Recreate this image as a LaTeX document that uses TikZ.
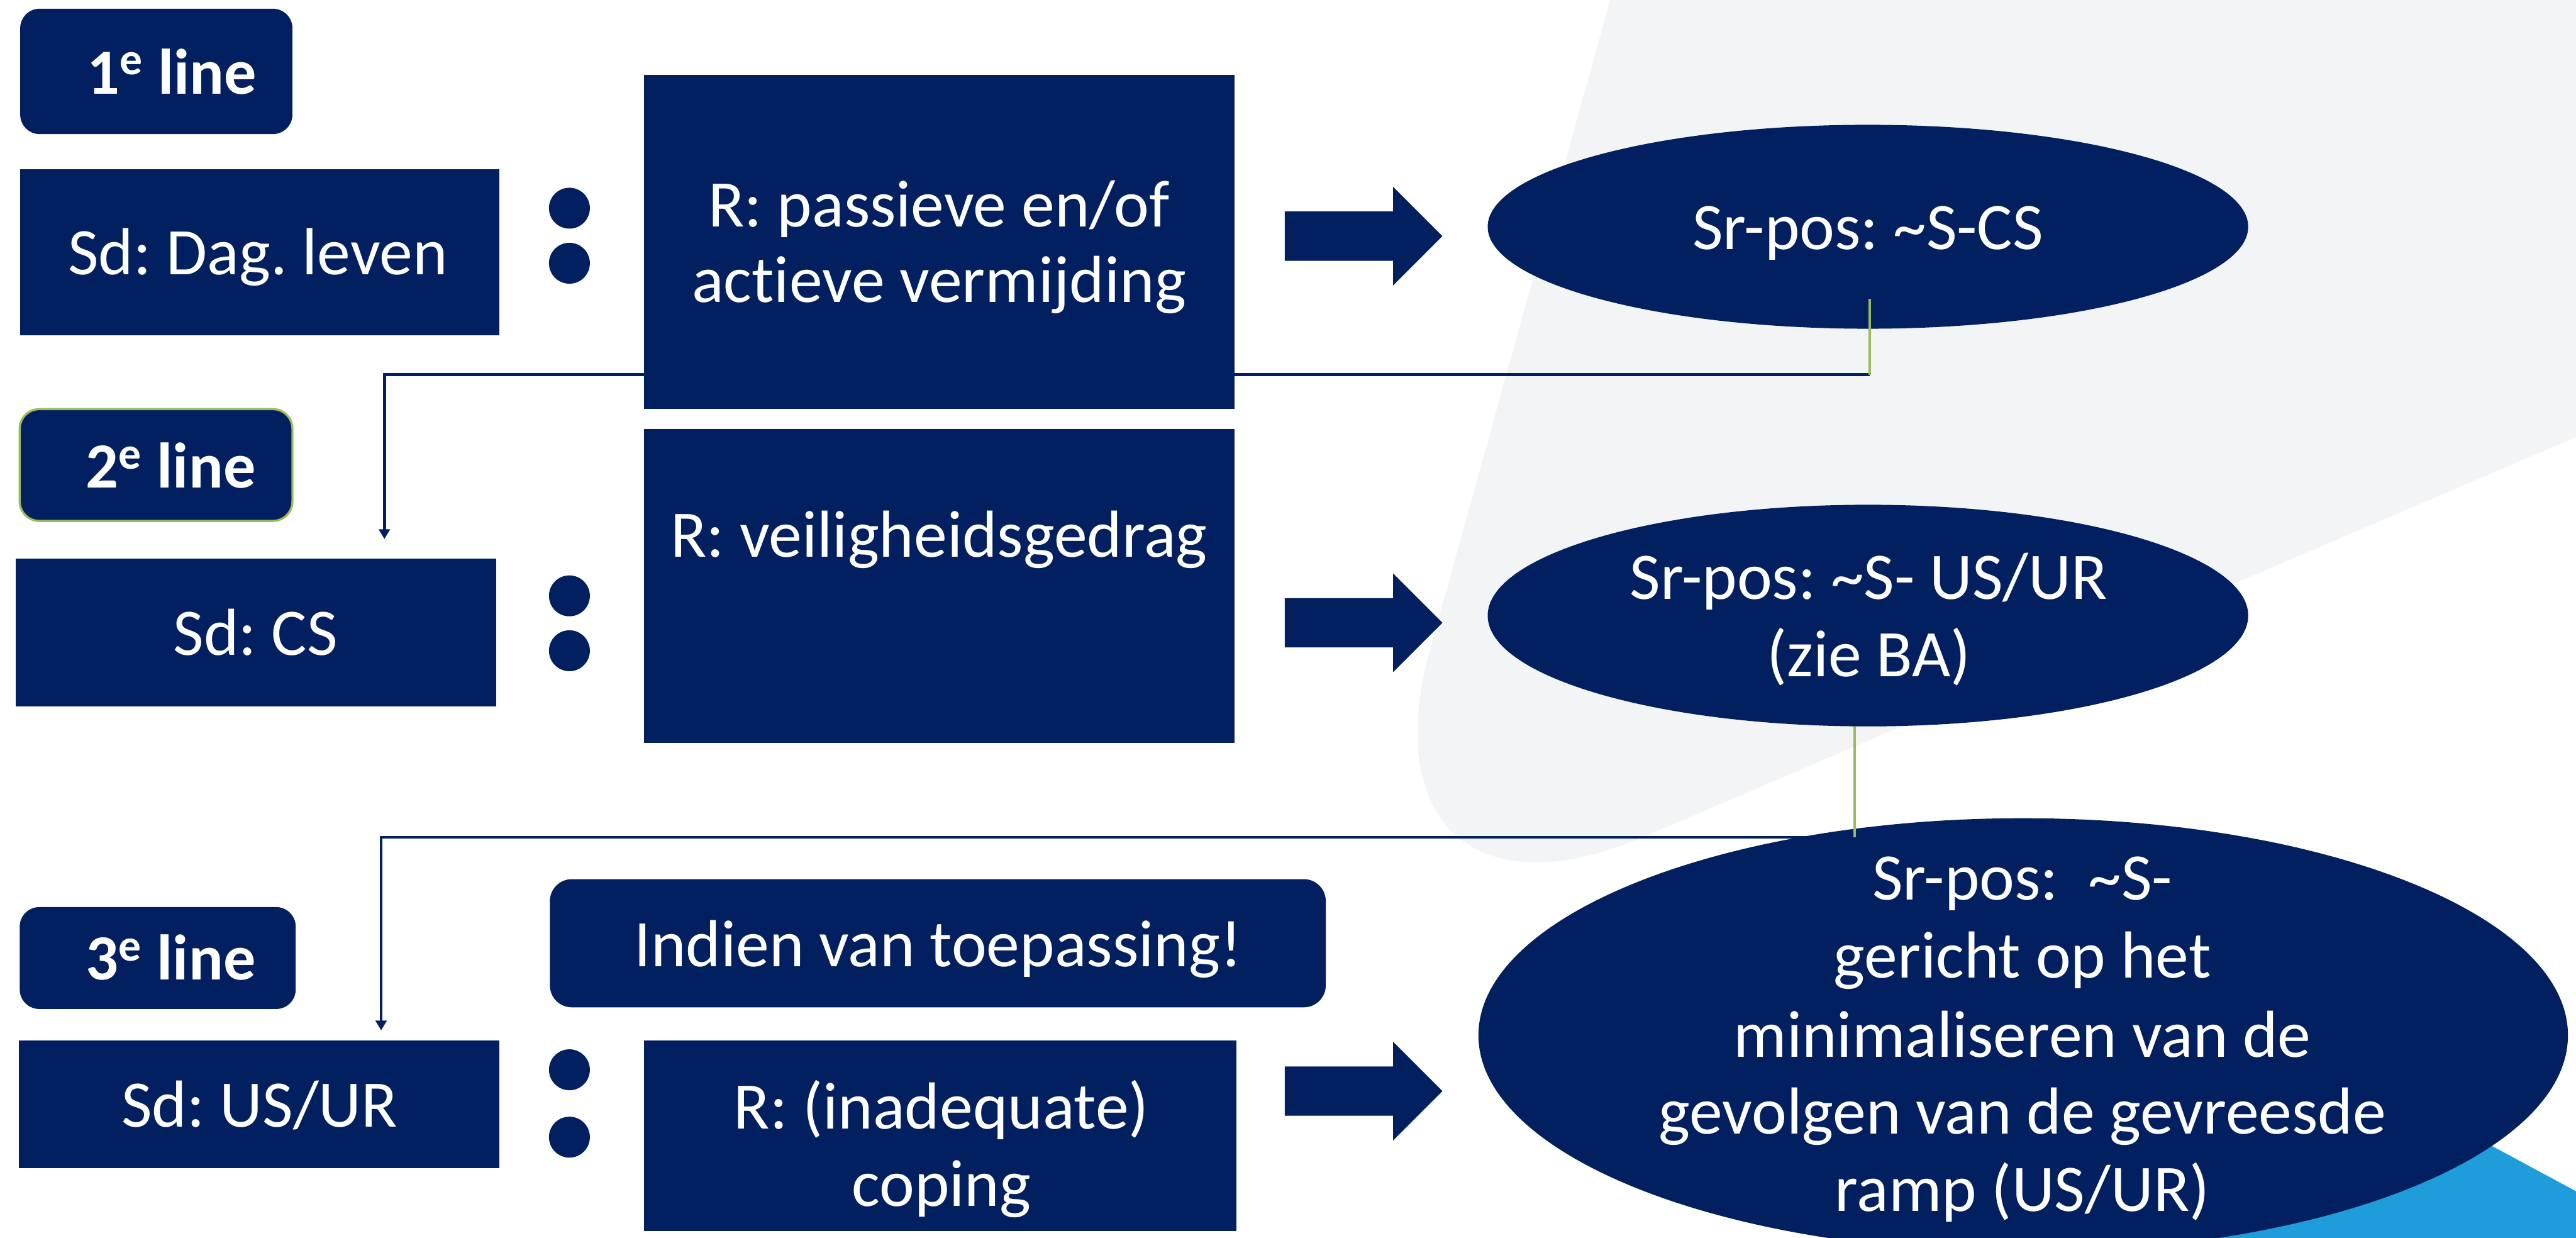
\documentclass[tikz,border=0pt]{standalone}
\usepackage{fontspec}
\setmainfont{Carlito}[Ligatures=NoCommon]
\usetikzlibrary{shapes.geometric,fit,arrows.meta}
\definecolor{navy}{HTML}{022060}
\definecolor{bggrey}{HTML}{F3F4F6}
\definecolor{skyblue}{HTML}{1E9DDA}
\definecolor{leaf}{HTML}{9BBB59}
\frenchspacing

\tikzset{
  panel/.style={fill=navy, draw=none, inner sep=0pt},
  tagbox/.style={panel, rounded corners=3.2mm},
  txt/.style={text=white, anchor=base, inner sep=0pt,
    font=\fontsize{31}{36}\selectfont},
  lbl/.style={text=white, anchor=base, inner sep=0pt,
    font=\bfseries\fontsize{30}{36}\selectfont},
  dot/.style={circle, fill=navy, minimum size=6.7mm, inner sep=0pt},
  blob/.style={ellipse, fill=navy, inner sep=0pt},
  conn/.style={navy, line width=1.4pt},
  tie/.style={leaf, line width=1.3pt},
  bigarrow/.pic={
    \fill[navy] (0,-15) -- (66,-15) -- (66,-30) -- (96,0) -- (66,30)
      -- (66,15) -- (0,15) -- cycle;
  }
}

\begin{document}
\begin{tikzpicture}[x=0.02692cm, y=-0.02692cm]
\useasboundingbox (0,0) rectangle (1568,753);
\clip (0,0) rectangle (1568,753);

% background decoration
\fill[bggrey, rounded corners=53.8mm]
  (1091,-400) -- (2400,-400) -- (2000,80.7) -- (817,588) -- cycle;
\fill[skyblue] (1440,656) -- (1700,796) -- (1700,900) -- (1100,900) -- cycle;

% feedback connectors (navy part)
\coordinate (g1top) at (1138,182);
\coordinate (g1bot) at (1138,228);
\coordinate (in2)   at (234,328);
\coordinate (g2top) at (1129,442);
\coordinate (g2bot) at (1129,509.5);
\coordinate (in3)   at (232,627);
\draw[conn, -{Triangle[width=1.8mm,length=1.6mm]}] (g1bot) -| (in2);
\draw[conn, -{Triangle[width=1.8mm,length=1.6mm]}] (g2bot) -| (in3);

% row 1
\node[tagbox, fit={(12.3,5.3) (178,81.6)}] (tag1) {};
\node[lbl] (tag1t) at (104.5,57.2) {1\textsuperscript{e} line};
\node[panel, fit={(12.3,103) (304,204)}] (sd1) {};
\node[txt] (sd1t) at (157,167.2) {Sd: Dag. leven};
\node[dot] (d1a) at (346.6,126.7) {};
\node[dot] (d1b) at (346.6,160.2) {};
\node[panel, fit={(392,45.6) (751.5,249)}] (r1) {};
\node[txt] (r1a) at (571.5,138) {R: passieve en/of};
\node[txt] (r1b) at (571.5,184) {actieve vermijding};
\pic (a1) at (782,143.7) {bigarrow};
\node[blob, minimum width=124.6mm, minimum height=33.4mm] (e1) at (1137,138) {};
\node[txt] (e1t) at (1137,151.6) {Sr-pos: \textasciitilde S-CS};

% row 2
\node[tagbox, draw=leaf, line width=1pt, fit={(12,249) (178,317)}] (tag2) {};
\node[lbl] (tag2t) at (104,297) {2\textsuperscript{e} line};
\node[panel, fit={(9.4,340) (302,430)}] (sd2) {};
\node[txt] (sd2t) at (155.5,398.6) {Sd: CS};
\node[dot] (d2a) at (346.6,362.6) {};
\node[dot] (d2b) at (346.6,396) {};
\node[panel, fit={(392,261) (751.5,452)}] (r2) {};
\node[txt] (r2t) at (571.5,339) {R: veiligheidsgedrag};
\pic (a2) at (782,379) {bigarrow};
\node[blob, minimum width=124.6mm, minimum height=36.3mm] (e2) at (1137,374.6) {};
\node[txt] (e2a) at (1137.5,364.8) {Sr-pos: \textasciitilde S- US/UR};
\node[txt] (e2b) at (1137.5,411.6) {(zie BA)};

% row 3
\node[tagbox, fit={(12,552) (180,614)}] (tag3) {};
\node[lbl] (tag3t) at (104,596.4) {3\textsuperscript{e} line};
\node[tagbox, rounded corners=3.6mm, fit={(334.7,535) (807,613)}] (note) {};
\node[txt] (notet) at (571,588) {Indien van toepassing!};
\node[panel, fit={(11.5,633) (304,711)}] (sd3) {};
\node[txt] (sd3t) at (158,685.8) {Sd: US/UR};
\node[dot] (d3a) at (346.6,651) {};
\node[dot] (d3b) at (346.6,692) {};
\node[panel, fit={(392,633) (752.6,749)}] (r3) {};
\node[txt] (r3a) at (573,687) {R: (inadequate)};
\node[txt] (r3b) at (573,734) {coping};
\pic (a3) at (782,664) {bigarrow};
\node[blob, minimum width=178.5mm, minimum height=71.1mm] (e3) at (1231.5,630) {};
\node[txt] (e3a) at (1231,547.6) {Sr-pos:\ \ \textasciitilde S-};
\node[txt] (e3b) at (1231,595) {gericht op het};
\node[txt] (e3c) at (1231,643.5) {minimaliseren van de};
\node[txt] (e3d) at (1231,690) {gevolgen van de gevreesde};
\node[txt] (e3e) at (1231,737) {ramp (US/UR)};

% feedback connectors (green part, on top of the ellipses)
\draw[tie] (g1top) -- (g1bot);
\draw[tie] (g2top) -- (g2bot);
\end{tikzpicture}
\end{document}
